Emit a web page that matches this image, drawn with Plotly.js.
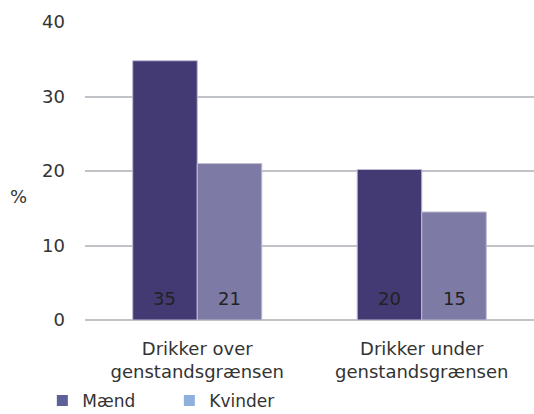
<!DOCTYPE html>
<html>
<head>
<meta charset="utf-8">
<script src="https://cdn.plot.ly/plotly-3.0.1.min.js"></script>
<style>html,body{margin:0;padding:0;background:#fff;overflow:hidden;}#chart{width:534px;height:414px;}</style>
</head>
<body>
<div id="chart"></div>
<script>
const categories = ["Drikker over<br>genstandsgrænsen", "Drikker under<br>genstandsgrænsen"];
const seriesNames = ["Mænd", "Kvinder"];
const maend = [34.8, 20.2];
const kvinder = [21.0, 14.5];
const yTicks = [0, 10, 20, 30, 40];

const FONT = "Verdana, 'DejaVu Sans', sans-serif";
const FS = 18;
const barColors = ["#433a73", "#7d7aa5"];
const legendColors = ["#5d6198", "#8fb0dc"];

const W = 534, H = 414;
const M = {l: 85, r: 0, t: 22, b: 94};
const BARGAP = 0.425;
const bandPx = (W - M.l - M.r) / categories.length;
const barPx = bandPx * (1 - BARGAP) / seriesNames.length;

function barTrace(name, vals, color) {
  return {
    type: "bar", name: name, x: categories, y: vals,
    marker: {color: color, line: {color: "#bdbcd3", width: 1}},
    showlegend: false, hoverinfo: "skip"
  };
}
function legendTrace(name, color) {
  return {
    type: "scatter", mode: "markers", name: name, x: categories, y: [null, null],
    marker: {symbol: "square", size: 11, color: color}, showlegend: true, hoverinfo: "skip"
  };
}

const seriesVals = [maend, kvinder];
const data = [
  barTrace(seriesNames[0], maend, barColors[0]),
  barTrace(seriesNames[1], kvinder, barColors[1]),
  legendTrace(seriesNames[0], legendColors[0]),
  legendTrace(seriesNames[1], legendColors[1])
];

const valueLabels = [];
seriesVals.forEach((vals, i) => {
  vals.forEach((v, j) => {
    valueLabels.push({
      text: String(Math.round(v)), xref: "x", yref: "y", x: categories[j], y: 0,
      xshift: (i - (seriesNames.length - 1) / 2) * barPx, yshift: 22,
      xanchor: "center", yanchor: "middle", showarrow: false,
      font: {family: FONT, size: FS, color: "#222"}
    });
  });
});

const layout = {
  width: W, height: H,
  margin: {l: M.l, r: M.r, t: M.t, b: M.b, autoexpand: false},
  paper_bgcolor: "#fff", plot_bgcolor: "#fff",
  font: {family: FONT, size: FS, color: "#333"},
  barmode: "group", bargap: BARGAP, bargroupgap: 0,
  xaxis: {
    type: "category", range: [-0.5, 1.5], showgrid: false, zeroline: false,
    showline: false, ticks: "", ticklabelstandoff: 16,
    tickfont: {family: FONT, size: FS, color: "#333"}
  },
  yaxis: {
    range: [0, 40], tickvals: yTicks, ticktext: yTicks.map(String),
    showgrid: true, gridcolor: "#c0c3c7", gridwidth: 2,
    zeroline: true, zerolinecolor: "#c0c3c7", zerolinewidth: 2,
    showline: false, ticks: "", ticklabelstandoff: 19,
    tickfont: {family: FONT, size: FS, color: "#333"}
  },
  showlegend: true,
  legend: {
    orientation: "h", x: -0.095, xanchor: "left", y: -0.272, yanchor: "middle",
    font: {family: FONT, size: 17, color: "#333"}, itemclick: false, itemdoubleclick: false,
    traceorder: "normal", entrywidth: 82, entrywidthmode: "pixels", itemwidth: 30
  },
  annotations: [{
    text: "%", xref: "paper", yref: "paper", x: -0.148, y: 0.416,
    xanchor: "center", yanchor: "middle", showarrow: false,
    font: {family: FONT, size: FS, color: "#333"}
  }].concat(valueLabels)
};

Plotly.newPlot("chart", data, layout, {displayModeBar: false, staticPlot: true});
</script>
</body>
</html>
